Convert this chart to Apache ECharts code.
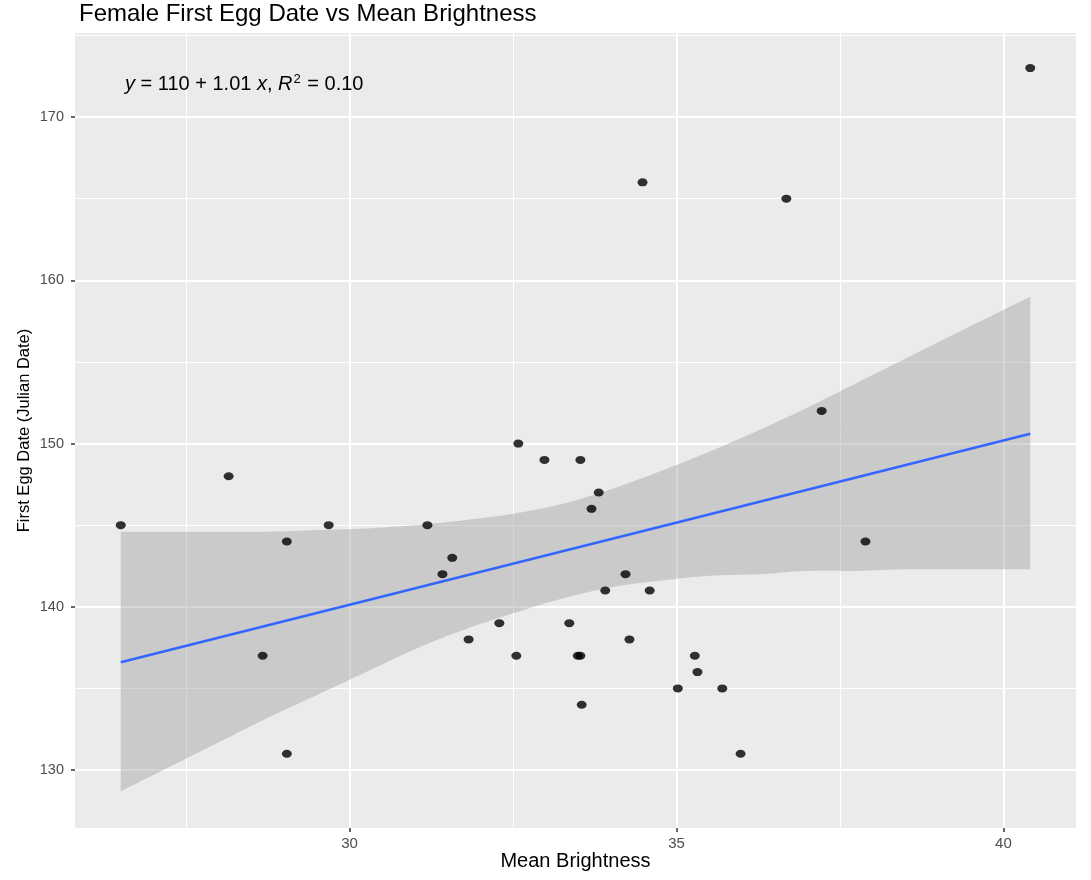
<!DOCTYPE html>
<html>
<head>
<meta charset="utf-8">
<script src="https://cdn.jsdelivr.net/npm/echarts@6/dist/echarts.min.js"></script>
<style>
  html, body { margin: 0; padding: 0; background: #ffffff; }
  #chart { width: 1091px; height: 880px; }
</style>
</head>
<body>
<div id="chart"></div>
<script>
const brightness = [26.50, 28.15, 28.67, 29.04, 29.04, 29.68, 31.19, 31.42, 31.57, 31.82,
                    32.29, 32.55, 32.58, 32.98, 33.36, 33.49, 33.53, 33.53, 33.55, 33.70,
                    33.81, 33.91, 34.22, 34.28, 34.48, 34.59, 35.02, 35.28, 35.32, 35.70,
                    35.98, 36.68, 37.22, 37.89, 40.41];
const eggDate    = [145, 148, 137, 144, 131, 145, 145, 142, 143, 138,
                    139, 137, 150, 149, 139, 137, 137, 149, 134, 146,
                    147, 141, 142, 138, 166, 141, 135, 137, 136, 135,
                    131, 165, 152, 144, 173];

// Fitted line (endpoints)
const fitX = [26.50, 40.41];
const fitY = [136.6, 150.6];

// Confidence band edges
const bandX     = [26.5, 27.25, 28.0, 28.75, 29.5, 30.25, 31.0, 31.75, 32.5, 33.25,
                   34.0, 34.75, 35.5, 36.25, 37.0, 37.75, 38.5, 39.25, 40.41];
const bandUpper = [144.6, 144.6, 144.6, 144.6, 144.7, 144.8, 145.0, 145.3, 145.7, 146.3,
                   147.2, 148.3, 149.5, 150.8, 152.2, 153.7, 155.2, 156.7, 159.0];
const bandLower = [128.7, 130.2, 131.7, 133.2, 134.6, 136.0, 137.4, 138.6, 139.6, 140.5,
                   141.2, 141.6, 141.9, 142.0, 142.2, 142.2, 142.3, 142.3, 142.3];

// Axis ticks
const xMajor = [30, 35, 40];
const xMinor = [27.5, 32.5, 37.5];
const yMajor = [130, 140, 150, 160, 170];
const yMinor = [135, 145, 155, 165, 175];

const titleText = 'Female First Egg Date vs Mean Brightness';
const xName = 'Mean Brightness';
const yName = 'First Egg Date (Julian Date)';

const FONT = '"Liberation Sans", Arial, Helvetica, sans-serif';

const points = brightness.map((x, i) => [x, eggDate[i]]);
const fitPts = fitX.map((x, i) => [x, fitY[i]]);

const chart = echarts.init(document.getElementById('chart'), null, { renderer: 'canvas' });

// Smooth a pixel-space polyline (Catmull-Rom) for drawing only
function smoothPixels(p) {
  const out = [];
  const n = p.length;
  const steps = 8;
  for (let i = 0; i < n - 1; i++) {
    const p0 = p[Math.max(i - 1, 0)], p1 = p[i], p2 = p[i + 1], p3 = p[Math.min(i + 2, n - 1)];
    for (let s = 0; s < steps; s++) {
      const t = s / steps, t2 = t * t, t3 = t2 * t;
      const f = (a, b, c, d) => 0.5 * (2 * b + (-a + c) * t + (2 * a - 5 * b + 4 * c - d) * t2 + (-a + 3 * b - 3 * c + d) * t3);
      out.push([f(p0[0], p1[0], p2[0], p3[0]), f(p0[1], p1[1], p2[1], p3[1])]);
    }
  }
  out.push(p[n - 1]);
  return out;
}

function renderBand(params, api) {
  if (params.dataIndex !== 0) return null;
  const up = bandX.map((x, i) => api.coord([x, bandUpper[i]]));
  const lo = bandX.map((x, i) => api.coord([x, bandLower[i]]));
  const pts = smoothPixels(up).concat(smoothPixels(lo.reverse()));
  return {
    type: 'polygon',
    shape: { points: pts },
    style: { fill: 'rgba(153,153,153,0.4)', stroke: null },
    silent: true
  };
}

chart.setOption({
  animation: false,
  backgroundColor: '#ffffff',
  title: [
    {
      text: titleText,
      left: 74,
      top: -3,
      textStyle: { fontFamily: FONT, fontSize: 24, fontWeight: 'normal', color: '#000000' }
    },
    {
      text: '{i|y} = 110 + 1.01 {i|x}, {i|R}{sup|2} = 0.10',
      left: 120,
      top: 68,
      textStyle: {
        fontFamily: FONT, fontSize: 20, fontWeight: 'normal', color: '#000000',
        rich: {
          i: { fontFamily: FONT, fontSize: 20, fontStyle: 'italic', color: '#000000' },
          sup: { fontFamily: FONT, fontSize: 13, color: '#000000', padding: [0, 1, 10, 1] }
        }
      }
    }
  ],
  grid: {
    left: 75, right: 15, top: 33, bottom: 52,
    show: true, backgroundColor: '#EBEBEB', borderWidth: 0,
    containLabel: false
  },
  xAxis: [
    {
      type: 'value', min: 25.80, max: 41.11,
      name: xName, nameLocation: 'middle', nameGap: 23, nameMoveOverlap: false,
      nameTextStyle: { fontFamily: FONT, fontSize: 20, color: '#000000' },
      axisLine: { show: false },
      axisTick: { show: true, customValues: xMajor, length: 4, lineStyle: { color: '#333333', width: 1.5 } },
      axisLabel: { customValues: xMajor, fontFamily: FONT, fontSize: 15, color: '#4D4D4D', margin: 8 },
      splitLine: { show: true, lineStyle: { color: '#FFFFFF', width: 2 } }
    },
    {
      type: 'value', min: 25.80, max: 41.11, position: 'top',
      axisLine: { show: false },
      axisTick: { show: false, customValues: xMinor },
      axisLabel: { show: false, customValues: xMinor },
      splitLine: { show: true, lineStyle: { color: '#FFFFFF', width: 1 } }
    }
  ],
  yAxis: [
    {
      type: 'value', min: 126.45, max: 175.15,
      name: yName, nameLocation: 'middle', nameGap: 42, nameRotate: 90, nameMoveOverlap: false,
      nameTextStyle: { fontFamily: FONT, fontSize: 16.5, color: '#000000' },
      axisLine: { show: false },
      axisTick: { show: true, customValues: yMajor, length: 4, lineStyle: { color: '#333333', width: 1.5 } },
      axisLabel: { customValues: yMajor, fontFamily: FONT, fontSize: 14.5, color: '#4D4D4D', margin: 11 },
      splitLine: { show: true, lineStyle: { color: '#FFFFFF', width: 2 } }
    },
    {
      type: 'value', min: 126.45, max: 175.15, position: 'right',
      axisLine: { show: false },
      axisTick: { show: false, customValues: yMinor },
      axisLabel: { show: false, customValues: yMinor },
      splitLine: { show: true, lineStyle: { color: '#FFFFFF', width: 1 } }
    }
  ],
  series: [
    {
      name: 'band', type: 'custom', coordinateSystem: 'cartesian2d',
      xAxisIndex: 0, yAxisIndex: 0,
      data: [[bandX[0], bandLower[0]]],
      renderItem: renderBand,
      silent: true, z: 2
    },
    {
      name: 'fit', type: 'line', data: fitPts,
      xAxisIndex: 0, yAxisIndex: 0,
      symbol: 'none', lineStyle: { color: '#3366FF', width: 2.6 },
      silent: true, z: 3
    },
    {
      name: 'points', type: 'scatter', data: points,
      xAxisIndex: 0, yAxisIndex: 0,
      symbol: 'circle', symbolSize: [10, 8],
      itemStyle: { color: '#000000' },
      z: 4
    }
  ]
});
</script>
</body>
</html>
